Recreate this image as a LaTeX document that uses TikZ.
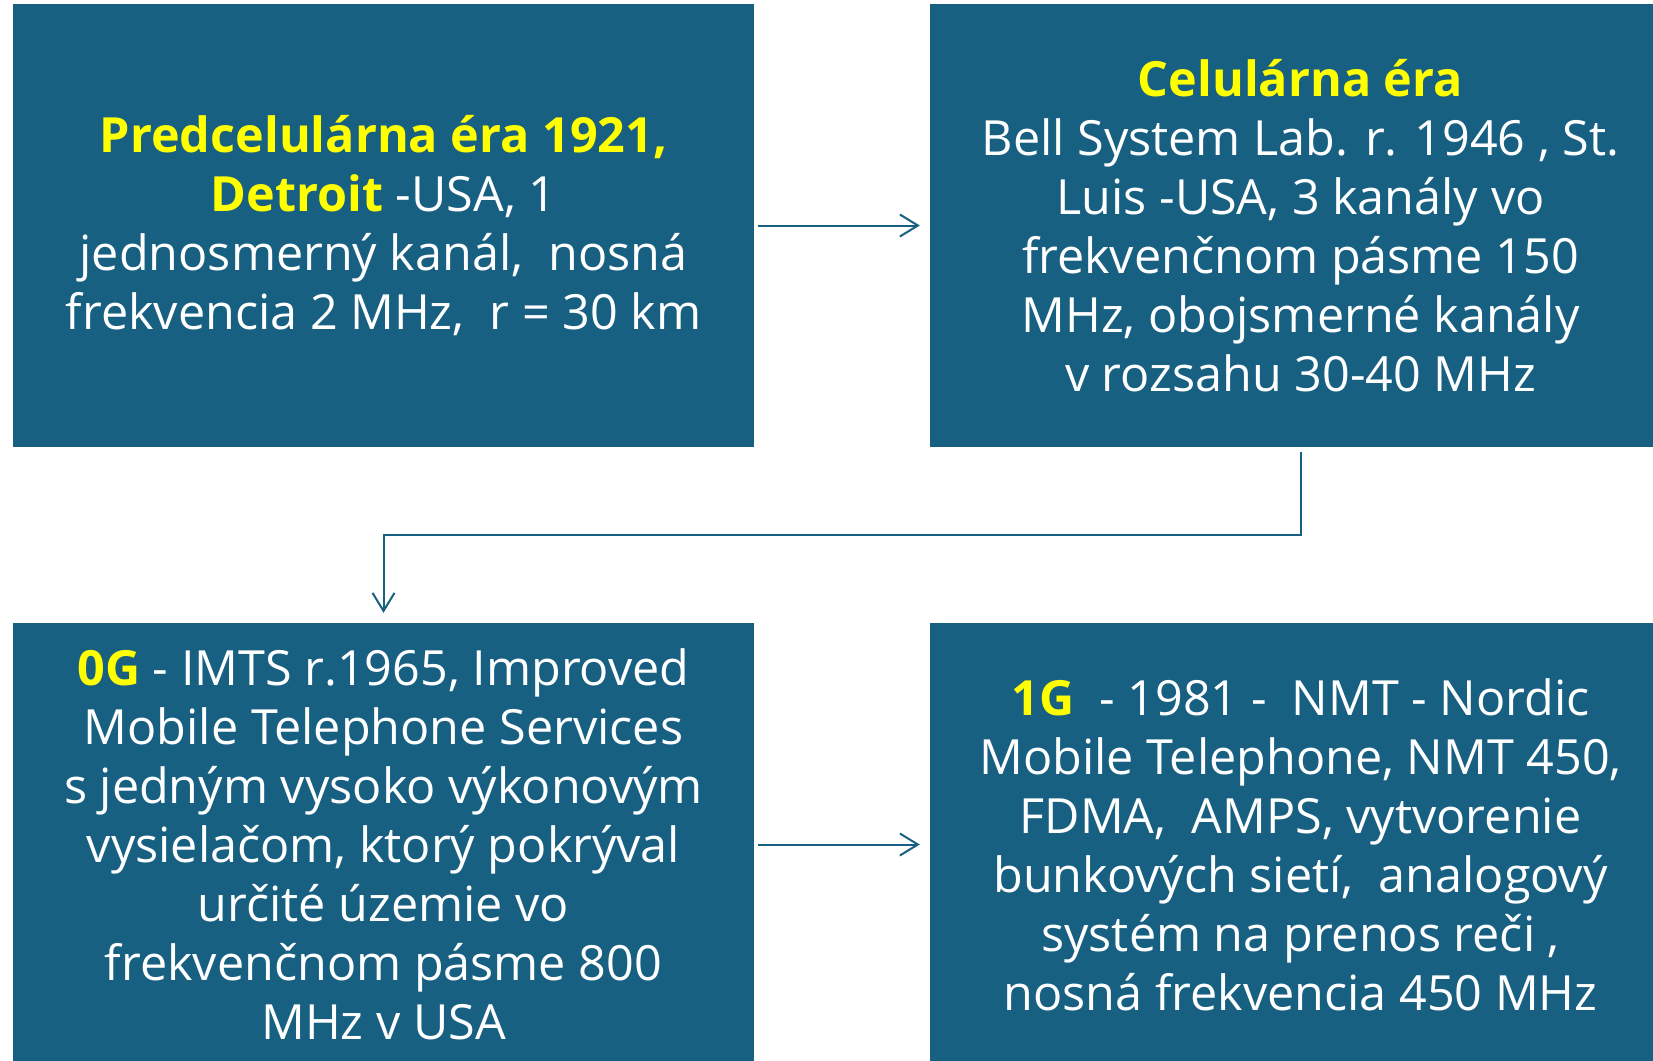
\documentclass[tikz,border=0pt]{standalone}
\usepackage{fontspec}
\setmainfont{Open Sans}
\usetikzlibrary{arrows.meta}
\definecolor{boxblue}{RGB}{23,96,130}
\definecolor{hl}{RGB}{255,255,0}
\tikzset{
  box/.style={fill=boxblue, text=white, inner sep=0pt, minimum width=741pt, minimum height=443pt, align=center,
    font=\fontsize{48.5pt}{59pt}\selectfont},
  conn/.style={draw=boxblue, line width=2pt, -{Straight Barb[length=18pt,width=22pt,line width=2pt]}}
}
\newcommand\hlt[1]{\textcolor{hl}{\bfseries #1}}
\begin{document}
\begin{tikzpicture}[x=1pt,y=-1pt]
\useasboundingbox (0,0) rectangle (1653,1060);
\clip (0,0) rectangle (1653,1060);
\node[box] (b1) at (383.5,225.5) {\hlt{Predcelulárna éra 1921,}\\\hlt{Detroit} -USA, 1\\jednosmerný kanál,\ \ nosná\\frekvencia 2 MHz,\ \ r = 30 km};
\node[box] (b2) at (1300.5,225.5) {\hlt{Celulárna éra}\\Bell System Lab. r. 1946 , St.\\Luis -USA, 3 kanály vo\\frekvenčnom pásme 150\\MHz, obojsmerné kanály\\v rozsahu 30-40 MHz};
\node[box] (b3) at (383.5,844.5) {\hlt{0G} - IMTS r.1965, Improved\\Mobile Telephone Services\\s jedným vysoko výkonovým\\vysielačom, ktorý pokrýval\\určité územie vo\\frekvenčnom pásme 800\\MHz v USA};
\node[box] (b4) at (1300.5,844.5) {\hlt{1G}\ \ - 1981 -\ \ NMT - Nordic\\Mobile Telephone, NMT 450,\\FDMA,\ \ AMPS, vytvorenie\\bunkových sietí,\ \ analogový\\systém na prenos reči ,\\nosná frekvencia 450 MHz};
\coordinate (elbow) at (383.5,535);
\draw[conn] ([xshift=4pt]b1.east) -- ([xshift=-10pt]b2.west);
\draw[conn] ([xshift=4pt]b3.east) -- ([xshift=-10pt]b4.west);
\draw[conn] ([yshift=-5pt]b2.south) |- (elbow) -- ([yshift=10pt]b3.north);
\end{tikzpicture}
\end{document}
